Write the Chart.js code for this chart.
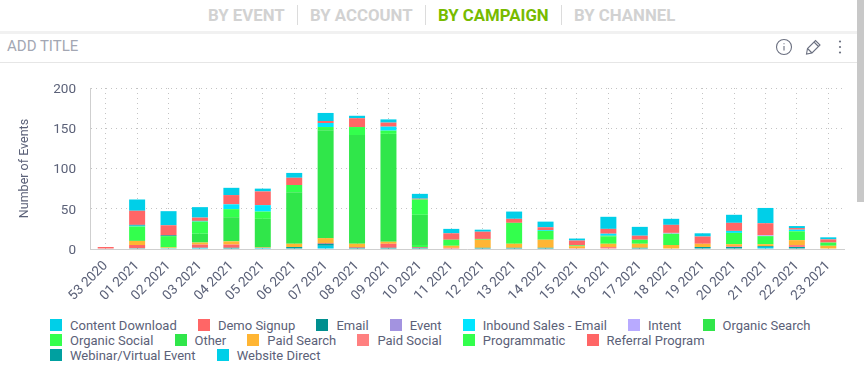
<!DOCTYPE html>
<html>
<head>
<meta charset="utf-8">
<title>By campaign</title>
<script src="https://cdn.jsdelivr.net/npm/chart.js@4"></script>
<style>
  html, body { margin: 0; padding: 0; background: #fff; overflow: hidden; }
  body { width: 864px; height: 387px; position: relative; font-family: Roboto, sans-serif; }
  .aba { position: absolute; top: 5px; font-size: 16.8px; line-height: 20px; font-weight: 700; color: #d2d2d2; white-space: nowrap; }
  .aba.ativa { color: #77bb00; }
  .sep { position: absolute; top: 5px; width: 1px; height: 20px; background: #dcdcdc; }
  #faixa { position: absolute; left: 0; top: 31px; width: 857px; height: 3px; background: #f1f1f1; }
  #titulo { position: absolute; left: 7px; top: 37px; font-size: 15px; line-height: 18px; color: #a3a7b3; }
  #linha { position: absolute; left: 0; top: 62px; width: 857px; height: 1px; background: #e6e6e6; }
  #barraRolagem { position: absolute; left: 857px; top: 0; width: 7px; height: 202px; background: #c8c8c8; }
  #icones { position: absolute; left: 775px; top: 38px; }
  #areaGrafico { position: absolute; left: 0; top: 64px; width: 857px; height: 250px; }
  #legenda { position: absolute; left: 50px; top: 318px; width: 790px; display: flex; flex-wrap: wrap; }
  .item { display: flex; align-items: center; height: 15px; margin-right: 21.2px; font-size: 13px; color: #5b6178; white-space: nowrap; }
  .caixa { width: 12px; height: 12px; margin-right: 8px; margin-top: -2px; }
</style>
</head>
<body>
  <div class="aba" style="left:208px">BY EVENT</div>
  <div class="sep" style="left:297px"></div>
  <div class="aba" style="left:310px">BY ACCOUNT</div>
  <div class="sep" style="left:425px"></div>
  <div class="aba ativa" style="left:438px">BY CAMPAIGN</div>
  <div class="sep" style="left:561px"></div>
  <div class="aba" style="left:574px">BY CHANNEL</div>
  <div id="faixa"></div>
  <div id="titulo">ADD TITLE</div>
  <svg id="icones" width="75" height="18" viewBox="0 0 75 18" fill="none" stroke="#6b7080" stroke-width="1.1">
    <circle cx="9" cy="9" r="7.5"></circle>
    <path d="M9 8v4.5M9 5.2v1"></path>
    <path d="M31.5 16l1-5.5 8-8 4.5 4.5-8 8zM39 4l4.5 4.5M32.5 10.5l4.5 4.5"></path>
    <circle cx="65" cy="3.5" r="1.1" fill="#6b7080" stroke="none"></circle>
    <circle cx="65" cy="9" r="1.1" fill="#6b7080" stroke="none"></circle>
    <circle cx="65" cy="14.5" r="1.1" fill="#6b7080" stroke="none"></circle>
  </svg>
  <div id="linha"></div>
  <div id="barraRolagem"></div>
  <div id="areaGrafico"><canvas id="grafico" width="857" height="250"></canvas></div>
  <div id="legenda"></div>

<script>
var semanas = ["53 2020", "01 2021", "02 2021", "03 2021", "04 2021", "05 2021", "06 2021", "07 2021", "08 2021", "09 2021", "10 2021", "11 2021", "12 2021", "13 2021", "14 2021", "15 2021", "16 2021", "17 2021", "18 2021", "19 2021", "20 2021", "21 2021", "22 2021", "23 2021"];

// valores, uma posicao por semana
var contentDownload = [0, 14, 17.5, 13, 9, 3.5, 6, 10, 3, 4, 6, 5.5, 2.5, 9, 7, 2.5, 15, 11, 7.5, 4, 10, 19, 2.5, 2.5];
var demoSignup = [0, 17.5, 12.5, 4, 11.5, 17, 9, 2.5, 11, 5, 1, 8, 9, 5, 3.5, 6, 6, 5, 10, 9, 10, 15, 2, 4];
var email = [0, 1, 1, 0.5, 0, 0, 0, 0, 0, 0, 0, 0, 0, 0, 0, 0, 0, 0, 0, 0, 0, 0, 0, 0];
var eventos = [0, 0, 0, 0, 0, 0, 0, 0, 0, 0, 0, 0, 0, 0, 0, 0, 0, 0, 0, 0, 0, 0, 0, 0];
var inboundSales = [0, 1, 0, 0.5, 6, 8, 0, 5, 0, 5, 0, 0, 0, 0, 1, 0, 2.5, 0, 0, 0, 2.5, 0, 2, 0];
var intent = [0, 0, 0, 0, 0, 0, 0, 0, 0, 0, 0, 0, 0, 0, 0, 0, 0, 0, 1, 0, 0, 1, 0, 0];
var organicSearch = [0, 0, 0, 0, 0, 0, 0, 0, 0, 0, 0, 0, 0, 0, 0, 0, 1, 0, 0, 0, 0, 0, 0, 0];
var organicSocial = [0, 17, 14, 15, 10, 9, 9, 4, 10, 4, 19, 7.5, 1, 26, 11, 1, 9, 5, 14, 0, 14, 10, 11, 4];
var other = [0, 1, 0, 11, 30, 35, 64, 134, 135, 134, 37.5, 0, 0, 0, 0, 0, 0, 0, 0, 0, 0, 0, 0, 0];
var paidSearch = [0, 5, 1, 2.5, 4, 1, 4, 6, 4, 2.5, 0, 2.5, 10, 5, 10, 2.5, 4, 5, 5, 4, 2.5, 2.5, 6, 4];
var paidSocial = [0, 0, 0, 0, 0, 0, 0, 0, 0, 0, 0, 0, 0, 0, 0, 0, 2.5, 0, 0, 0, 1, 0, 2.5, 0];
var programmatic = [0, 0, 0, 0, 0, 0, 0, 0, 0, 0, 2.5, 0, 0, 0, 0, 0, 0, 0, 0, 0, 0, 0, 0, 0];
var referralProgram = [2.5, 4, 0, 4, 4, 0, 0, 1, 1, 5, 1, 1.5, 0, 0, 0, 1, 0, 0, 0, 0, 0, 0, 0, 0];
var webinar = [0, 1, 0, 0, 1.5, 0, 2.5, 2.5, 1.5, 1.5, 1.5, 0, 1.5, 1.5, 1.5, 0, 0, 1.5, 0, 2.5, 2.5, 1, 2.5, 0];
var websiteDirect = [0, 0, 1, 1.5, 0, 1.5, 0, 4, 0, 0, 0, 0, 0, 0, 0, 0, 0, 0, 0, 0, 0, 2.5, 0, 0];

var nomesSeries = ["Content Download", "Demo Signup", "Email", "Event", "Inbound Sales - Email", "Intent", "Organic Search", "Organic Social", "Other", "Paid Search", "Paid Social", "Programmatic", "Referral Program", "Webinar/Virtual Event", "Website Direct"];
var valoresSeries = [contentDownload, demoSignup, email, eventos, inboundSales, intent, organicSearch, organicSocial, other, paidSearch, paidSocial, programmatic, referralProgram, webinar, websiteDirect];
var coresSeries = ["#00cfe8", "#ff6666", "#008f8f", "#a393e0", "#00e5ff", "#b8aaff", "#30e64a", "#33ff4d", "#30e64a", "#ffb533", "#ff8080", "#33ff4d", "#ff6666", "#00a0a0", "#00cfe8"];
var ticksY = [0, 50, 100, 150, 200];

// a primeira serie da legenda fica no topo da pilha, por isso monta de tras pra frente
var conjuntos = [];
for (var i = nomesSeries.length - 1; i >= 0; i--) {
  conjuntos.push({
    label: nomesSeries[i],
    data: valoresSeries[i],
    backgroundColor: coresSeries[i],
    borderWidth: 0,
    inflateAmount: 0, // sem isso os valores zero viram riscos coloridos
    barThickness: 16
  });
}

// Legenda em HTML (o espaco entre linhas e colunas e diferente no original)
for (var j = 0; j < nomesSeries.length; j++) {
  legenda.innerHTML += '<div class="item"><span class="caixa" style="background:' + coresSeries[j] + '"></span>' + nomesSeries[j] + '</div>';
}

Chart.defaults.font.family = "Roboto, sans-serif";

var chartBarras = new Chart(grafico.getContext("2d"), {
  type: "bar",
  data: { labels: semanas, datasets: conjuntos },
  options: {
    responsive: false,
    animation: false,
    layout: { padding: { top: 24, right: 13 } },
    plugins: { legend: { display: false }, tooltip: { enabled: true } },
    scales: {
      x: {
        stacked: true,
        afterFit: function (escala) { escala.height = 65; },
        grid: { color: "#c4c4c4", offset: false, drawTicks: false },
        border: { color: "#cfcfcf", dash: [1, 4] },
        ticks: {
          color: "#5b6178",
          font: { size: 13.5 },
          autoSkip: false,
          minRotation: 45,
          maxRotation: 45,
          padding: 9
        }
      },
      y: {
        stacked: true,
        min: 0,
        max: 200,
        afterFit: function (escala) { escala.width = 90; },
        afterBuildTicks: function (escala) {
          escala.ticks = ticksY.map(function (v) { return { value: v }; });
        },
        grid: { color: "#c4c4c4", drawTicks: false },
        border: { color: "#cfcfcf", dash: [1, 4] },
        ticks: { color: "#5b6178", font: { size: 13.5 }, padding: 14, labelOffset: 1.5 },
        title: {
          display: true,
          text: "Number of Events",
          color: "#5b6178",
          font: { size: 12.5 },
          padding: { top: 17, bottom: 0 }
        }
      }
    }
  }
});
</script>
</body>
</html>
